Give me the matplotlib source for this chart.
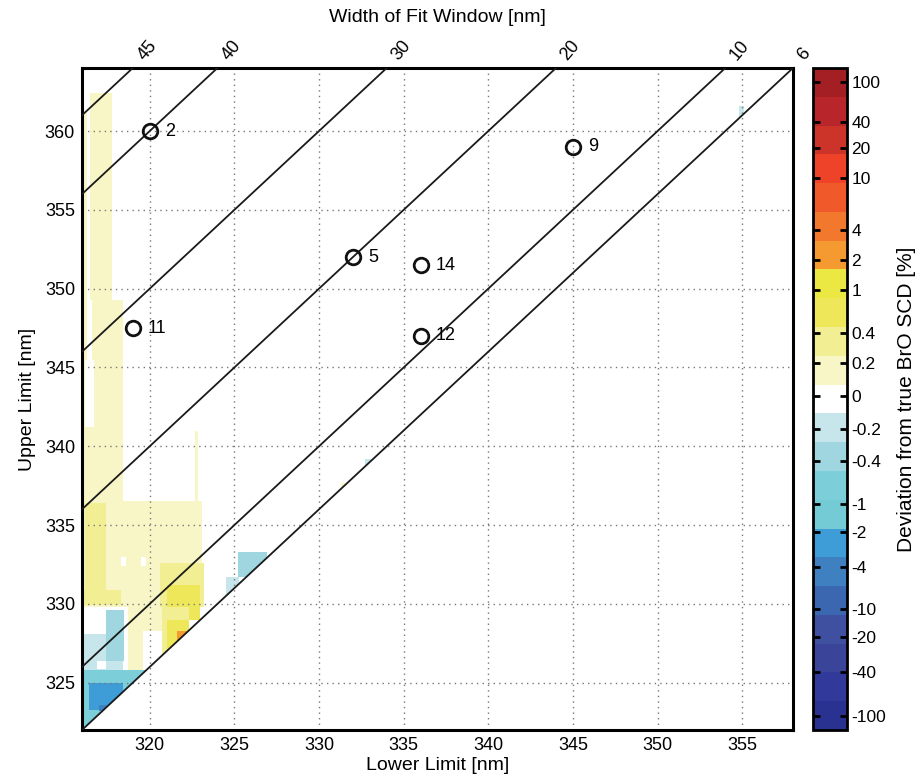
import numpy as np
import matplotlib
matplotlib.use("Agg")
import matplotlib.pyplot as plt
from matplotlib.cm import ScalarMappable
from matplotlib.colors import FuncNorm, ListedColormap
from matplotlib.patches import Polygon

plt.rcParams["font.family"] = ["Liberation Sans", "DejaVu Sans"]

# axis ranges of the fit window map (nm)
lower_range = (316, 358)
upper_range = (322, 364)
window_widths = [45, 40, 30, 20, 10, 6]

# selected fit windows
fit_lower = [320, 345, 332, 336, 319, 336]
fit_upper = [360, 359, 352, 351.5, 347.5, 347]
fit_ids = ["2", "9", "5", "14", "11", "12"]

# deviation patches (later rows drawn over earlier ones)
patch_lower_lo = [316.05, 316.5, 316.6, 316.0, 316.2, 316.0, 322.65, 316.2, 320.6, 321.0,
                  316.0, 318.3, 319.5, 316.0, 316.0, 317.4, 318.7, 319.6, 320.7, 321.0,
                  321.6, 316.9, 316.0, 316.4, 317.0, 325.2, 324.5, 332.7, 331.3, 354.8]
patch_lower_hi = [316.3, 317.8, 318.4, 318.4, 316.7, 323.1, 322.85, 317.4, 323.2, 323.0,
                  318.3, 318.6, 319.8, 317.4, 318.4, 318.5, 319.6, 320.7, 322.3, 322.3,
                  322.2, 317.4, 320.0, 318.4, 317.4, 326.9, 325.3, 333.1, 331.7, 355.1]
patch_upper_lo = [330.0, 349.3, 345.5, 336.5, 341.2, 329.8, 336.5, 330.2, 329.8, 329.0,
                  329.9, 332.4, 332.4, 326.7, 325.8, 326.4, 325.8, 328.3, 322.0, 326.5,
                  327.7, 325.9, 322.0, 323.3, 323.2, 331.7, 330.0, 338.8, 337.3, 360.8]
patch_upper_hi = [361.3, 362.4, 349.3, 345.5, 345.5, 336.5, 341.0, 336.4, 332.6, 331.2,
                  330.9, 333.0, 333.0, 328.1, 326.7, 329.6, 330.1, 329.8, 329.8, 329.0,
                  328.3, 326.4, 325.8, 325.0, 323.6, 333.3, 331.7, 339.2, 337.7, 361.6]
patch_dev = [0.12, 0.12, 0.12, 0.12, 0, 0.12, 0.12, 0.3, 0.3, 0.6,
             0.3, 0, 0, -0.15, -0.15, -0.35, 0.12, 0.12, 0.3, 0.6,
             2, 0, -0.6, -2.5, -5, -0.35, -0.15, -0.15, 0.12, -0.15]

# colour scale
cbar_ticks = [-100, -40, -20, -10, -4, -2, -1, -0.4, -0.2, 0,
              0.2, 0.4, 1, 2, 4, 10, 20, 40, 100]
cbar_labels = ["-100", "-40", "-20", "-10", "-4", "-2", "-1", "-0.4", "-0.2", "0",
               "0.2", "0.4", "1", "2", "4", "10", "20", "40", "100"]
cbar_tick_frac = [0.021, 0.087, 0.140, 0.183, 0.246, 0.299, 0.341, 0.406, 0.454, 0.505,
                  0.555, 0.600, 0.665, 0.710, 0.756, 0.834, 0.879, 0.919, 0.979]
band_colors = ["#2a3291", "#31399a", "#3a4599", "#3f50a0", "#3b66b0", "#3f80c0",
               "#3e9dd7", "#74cbd6", "#7ccfd9", "#9fd6df", "#c7e6ec", "#ffffff",
               "#f8f6c7", "#f2ee94", "#efe75a", "#ebe843", "#f59a31", "#f2782d",
               "#f05a2a", "#ee4328", "#cc3329", "#b8252a", "#a31f23"]

val_ext = [-150] + cbar_ticks + [150]
frac_ext = [0.0] + cbar_tick_frac + [1.0]


def forward(v):
    return np.interp(v, val_ext, frac_ext)


def inverse(f):
    return np.interp(f, frac_ext, val_ext)


norm = FuncNorm((forward, inverse), vmin=-150, vmax=150)
cmap = ListedColormap(band_colors)

# build the deviation map
step = 0.05
xs = np.arange(lower_range[0], lower_range[1], step) + step / 2
ys = np.arange(upper_range[0], upper_range[1], step) + step / 2
X, Y = np.meshgrid(xs, ys)
dev = np.zeros_like(X)
for x0, x1, y0, y1, v in zip(patch_lower_lo, patch_lower_hi, patch_upper_lo, patch_upper_hi, patch_dev):
    dev[(X >= x0) & (X < x1) & (Y >= y0) & (Y < y1)] = v

fig = plt.figure(figsize=(9.22, 7.82), dpi=100)
ax = fig.add_axes([82 / 922, 52 / 782, 711 / 922, 662 / 782])
cax = fig.add_axes([813 / 922, 52 / 782, 34 / 922, 662 / 782])

im = ax.imshow(dev, extent=(*lower_range, *upper_range), origin="lower", cmap=cmap, norm=norm,
               aspect="auto", interpolation="nearest", zorder=0)
min_width = min(window_widths)
clip = Polygon([(lower_range[0], lower_range[0] + min_width), (upper_range[1] - min_width, upper_range[1]),
                (lower_range[0], upper_range[1])], closed=True, transform=ax.transData)
im.set_clip_path(clip)

ax.set_xlim(*lower_range)
ax.set_ylim(*upper_range)
ax.set_xticks(range(320, 356, 5))
ax.set_yticks(range(325, 361, 5))
ax.grid(True, linestyle=(0, (1, 3)), color="#777777", linewidth=1.0)
ax.tick_params(length=0, labelsize=13, pad=5)
for spine in ax.spines.values():
    spine.set_linewidth(2.2)

for w in window_widths:
    ax.plot([lower_range[0], upper_range[1] - w], [lower_range[0] + w, upper_range[1]],
            color="#1a1a1a", linewidth=1.3, zorder=3)
    ax.annotate(str(w), xy=(upper_range[1] - w, upper_range[1]), xytext=(1, 3),
                textcoords="offset points", rotation=50, ha="left", va="bottom",
                fontsize=13, annotation_clip=False)

ax.plot(fit_lower, fit_upper, "o", mfc="none", mec="#111111", ms=10.5, mew=2, zorder=4)
for xv, yv, lab in zip(fit_lower, fit_upper, fit_ids):
    ax.annotate(lab, xy=(xv, yv), xytext=(11, 0), textcoords="offset points",
                va="center", ha="left", fontsize=13)

ax.set_xlabel("Lower Limit [nm]", fontsize=14, labelpad=2)
ax.set_ylabel("Upper Limit [nm]", fontsize=14, labelpad=6)
fig.text(437 / 922, 1 - 18 / 782, "Width of Fit Window [nm]", ha="center", va="center", fontsize=14)

cb = fig.colorbar(ScalarMappable(norm=norm, cmap=cmap), cax=cax)
cb.set_ticks(cbar_ticks)
cb.set_ticklabels(cbar_labels)
cb.outline.set_linewidth(2)
cax.tick_params(direction="in", left=True, right=True, length=5, width=2, labelsize=12.5, pad=3)
cb.set_label("Deviation from true BrO SCD [%]", fontsize=15, labelpad=8)
cax.minorticks_off()

fig.savefig("out.png", dpi=100)
